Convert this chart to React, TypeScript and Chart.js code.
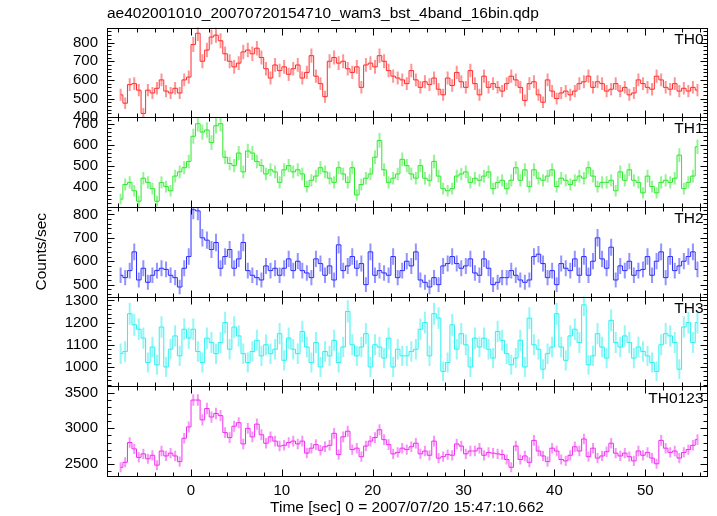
import React, { useEffect, useRef } from 'react';
import { Chart, registerables } from 'chart.js';

Chart.register(...registerables);

// ---- data (0.5 s bins, first bin centre at -7.75 s) ----
const BIN_START = -7.75;
const BIN_WIDTH = 0.5;

const TH0 = [
  520, 475, 575, 580, 545, 420, 545, 530, 555, 600, 540, 530, 555, 530, 600, 615,
  790, 850, 700, 760, 830, 840, 810, 740, 700, 670, 690, 750, 760, 740, 770, 720,
  660, 610, 680, 650, 670, 630, 660, 680, 610, 640, 730, 620, 580, 510, 700, 720,
  690, 700, 660, 640, 670, 560, 680, 690, 670, 730, 700, 650, 620, 610, 600, 580,
  650, 600, 560, 590, 575, 610, 550, 520, 610, 570, 640, 590, 560, 650, 580, 520,
  620, 560, 580, 560, 540, 580, 620, 600, 560, 490, 580, 590, 520, 480, 600, 540,
  500, 530, 540, 520, 540, 580, 590, 620, 560, 590, 580, 540, 550, 580, 540, 560,
  520, 530, 600, 580, 560, 550, 620, 600, 560, 550, 580, 540, 555, 540, 560, 545,
];

const TH1 = [
  340, 410, 420, 380, 330, 440, 420, 390, 330, 420, 400, 380, 450, 470, 490, 520,
  640, 700, 660, 670, 610, 690, 700, 540, 510, 500, 560, 470, 570, 560, 520, 500,
  460, 480, 470, 420, 480, 500, 470, 480, 460, 400, 430, 450, 490, 470, 440, 420,
  490, 460, 420, 490, 360, 410, 440, 460, 540, 620, 480, 420, 440, 460, 530, 500,
  460, 440, 500, 440, 430, 520, 450, 390, 380, 390, 450, 460, 470, 420, 440, 430,
  450, 470, 390, 420, 430, 390, 430, 490, 430, 480, 400, 480, 440, 430, 450, 480,
  400, 440, 430, 410, 430, 450, 440, 490, 450, 400, 420, 420, 430, 380, 470, 430,
  480, 430, 420, 370, 450, 400, 370, 420, 430, 420, 440, 550, 390, 420, 450, 590,
];

const TH2 = [
  540, 530, 560, 640, 520, 570, 510, 540, 560, 570, 565, 540, 530, 490, 570, 620,
  820, 815, 700, 690, 650, 680, 570, 620, 650, 570, 610, 680, 560, 540, 530, 520,
  580, 560, 570, 540, 570, 610, 560, 600, 560, 550, 530, 610, 590, 540, 580, 520,
  670, 560, 580, 620, 570, 590, 500, 640, 540, 560, 550, 540, 620, 530, 560, 600,
  580, 640, 520, 510, 490, 530, 500, 580, 590, 620, 590, 570, 580, 610, 550, 540,
  610, 570, 500, 510, 530, 530, 560, 540, 520, 510, 520, 620, 630, 590, 530, 560,
  500, 590, 570, 560, 610, 540, 620, 540, 600, 700, 610, 570, 660, 520, 580, 560,
  600, 540, 560, 565, 620, 540, 600, 640, 530, 620, 560, 580, 600, 620, 640, 565,
];

const TH3 = [
  1060, 1070, 1240, 1190, 1170, 1130, 1020, 1090, 1010, 1180, 1000, 1080, 1140, 1050, 1170, 1130,
  1170, 1070, 1020, 1130, 1110, 1060, 1110, 1200, 1080, 1180, 1140, 1060, 1020, 1070, 1120, 1050,
  1100, 1060, 1080, 1150, 1030, 1130, 1080, 1060, 1160, 1090, 1020, 1110, 1000, 1070, 1050, 1120,
  1020, 1090, 1250, 1100, 1050, 1090, 1150, 1000, 1100, 1090, 1040, 1130, 1000, 1080, 1050, 1050,
  1070, 1080, 1170, 1200, 1050, 1240, 1220, 980, 1020, 1190, 1080, 1150, 1100, 1000, 1130, 1090,
  1130, 1080, 1040, 1160, 1120, 1060, 1010, 1040, 1120, 1000, 1220, 1100, 1080, 990, 1060, 1090,
  1240, 1090, 1030, 1140, 1170, 1110, 1280, 1010, 1050, 1150, 1090, 1040, 1210, 1110, 1090, 1140,
  1110, 1040, 1090, 1070, 1050, 1020, 980, 1100, 1150, 1140, 1110, 990, 1180, 1200, 1110, 1200,
];

const TH0123 = [
  2450, 2520, 2800, 2710, 2590, 2640, 2570, 2620, 2480, 2680, 2610, 2650, 2610, 2530, 2860, 3020,
  3400, 3400, 3120, 3280, 3160, 3210, 3180, 2940, 2870, 3030, 3080, 2780, 3000, 2880, 3060, 2910,
  2790, 2880, 2820, 2750, 2760, 2800, 2820, 2780, 2820, 2650, 2720, 2770, 2690, 2740, 2760, 2930,
  2630, 2880, 2960, 2700, 2720, 2600, 2750, 2820, 2870, 2980, 2840, 2770, 2640, 2660, 2720, 2700,
  2740, 2790, 2640, 2680, 2620, 2820, 2580, 2600, 2630, 2620, 2780, 2750, 2640, 2680, 2680, 2720,
  2620, 2660, 2650, 2640, 2630, 2560, 2450, 2750, 2560, 2610, 2520, 2830, 2680, 2610, 2530, 2720,
  2680, 2560, 2540, 2620, 2740, 2680, 2850, 2600, 2720, 2580, 2610, 2670, 2790, 2650, 2610, 2650,
  2600, 2540, 2680, 2620, 2660, 2580, 2500, 2830, 2720, 2660, 2680, 2580, 2660, 2700, 2760, 2840,
];

const SERIES = [TH0, TH1, TH2, TH3, TH0123];
const PANEL_NAMES = ['TH0', 'TH1', 'TH2', 'TH3', 'TH0123'];
const Y_TICKS = [
  [400, 500, 600, 700, 800],
  [400, 500, 600, 700],
  [500, 600, 700, 800],
  [1000, 1100, 1200, 1300],
  [2500, 3000, 3500],
];
const X_TICKS = [0, 10, 20, 30, 40, 50];
const TITLE = 'ae402001010_20070720154710_wam3_bst_4band_16bin.qdp';
const X_TITLE = 'Time [sec] 0 = 2007/07/20 15:47:10.662';
const Y_TITLE = 'Counts/sec';

// ---- styling ----
const Y_MIN = [400, 303, 449, 913, 2327];
const Y_MAX = [881, 731, 832, 1317, 3594];
const Y_MINOR = [20, 20, 20, 20, 100];
const LINE_COLORS = ['#ff2b2b', '#2be82b', '#2b2bff', '#2bf0f0', '#f02bf0'];
const ERR_COLORS = [
  'rgba(255,60,60,0.55)',
  'rgba(60,235,60,0.55)',
  'rgba(60,60,255,0.55)',
  'rgba(60,240,240,0.55)',
  'rgba(240,60,240,0.55)',
];
const FONT = "'Liberation Sans', Arial, Helvetica, sans-serif";

const panelPlugin = {
  id: 'panelPlugin',
  beforeDatasetDraw(chart: any, args: any) {
    const k = args.index;
    const ys = chart.scales['y' + k];
    const xs = chart.scales.x;
    const ctx = chart.ctx;
    const ca = chart.chartArea;
    ctx.save();
    ctx.beginPath();
    ctx.rect(ca.left, ys.top, ca.right - ca.left, ys.bottom - ys.top);
    ctx.clip();
    // error bars
    ctx.strokeStyle = ERR_COLORS[k];
    ctx.lineWidth = 2;
    const vals = SERIES[k];
    vals.forEach((v, i) => {
      const t = BIN_START + BIN_WIDTH * i;
      const err = Math.sqrt(v / BIN_WIDTH);
      const x = xs.getPixelForValue(t);
      ctx.beginPath();
      ctx.moveTo(x, ys.getPixelForValue(v - err));
      ctx.lineTo(x, ys.getPixelForValue(v + err));
      ctx.stroke();
    });
  },
  afterDatasetDraw(chart: any) {
    chart.ctx.restore();
  },
  afterDraw(chart: any) {
    const ctx = chart.ctx;
    const ca = chart.chartArea;
    const xs = chart.scales.x;
    ctx.save();
    ctx.strokeStyle = '#000';
    ctx.lineWidth = 1;
    const L = Math.round(ca.left) + 0.5;
    const R = Math.round(ca.right) + 0.5;
    for (let k = 0; k < 5; k++) {
      const ys = chart.scales['y' + k];
      const T = Math.round(ys.top) + 0.5;
      const B = Math.round(ys.bottom) + 0.5;
      ctx.strokeRect(L, T, R - L, B - T);
      ctx.beginPath();
      // x ticks
      for (let t = -8; t <= 56; t += 2) {
        const x = Math.round(xs.getPixelForValue(t)) + 0.5;
        const len = t % 10 === 0 ? 7 : 4;
        ctx.moveTo(x, T); ctx.lineTo(x, T + len);
        ctx.moveTo(x, B); ctx.lineTo(x, B - len);
      }
      // y ticks
      const step = Y_MINOR[k];
      const majors = Y_TICKS[k];
      const majorStep = majors[1] - majors[0];
      for (let v = Math.ceil(Y_MIN[k] / step) * step; v <= Y_MAX[k]; v += step) {
        const y = Math.round(ys.getPixelForValue(v)) + 0.5;
        const len = v % majorStep === 0 ? 7 : 4;
        ctx.moveTo(L, y); ctx.lineTo(L + len, y);
        ctx.moveTo(R, y); ctx.lineTo(R - len, y);
      }
      ctx.stroke();
      // panel name
      ctx.fillStyle = '#000';
      ctx.font = `15.5px ${FONT}`;
      ctx.textAlign = 'right';
      ctx.textBaseline = 'middle';
      ctx.fillText(PANEL_NAMES[k], R - 4, ys.top + 12);
    }
    // titles
    ctx.fillStyle = '#000';
    ctx.font = `15.5px ${FONT}`;
    ctx.textAlign = 'left';
    ctx.textBaseline = 'middle';
    ctx.fillText(TITLE, 107, 14);
    ctx.textAlign = 'center';
    ctx.fillText(X_TITLE, (ca.left + ca.right) / 2, 508);
    ctx.translate(42, (ca.top + ca.bottom) / 2);
    ctx.rotate(-Math.PI / 2);
    ctx.fillText(Y_TITLE, 0, 0);
    ctx.restore();
  },
};

export default function App() {
  const ref = useRef<HTMLCanvasElement | null>(null);

  useEffect(() => {
    if (!ref.current) return;
    const datasets = SERIES.map((vals, k) => ({
      label: PANEL_NAMES[k],
      data: vals.map((v, i) => ({ x: BIN_START + BIN_WIDTH * i, y: v })),
      yAxisID: 'y' + k,
      borderColor: LINE_COLORS[k],
      borderWidth: 1,
      pointRadius: 0,
      stepped: 'middle' as const,
      fill: false,
    }));

    const scales: any = {
      x: {
        type: 'linear',
        position: 'bottom',
        min: -9.25,
        max: 56.8,
        grid: { display: false, drawTicks: false },
        border: { display: false },
        ticks: {
          color: '#000',
          font: { family: FONT, size: 15 },
          padding: 6,
          autoSkip: false,
          maxRotation: 0,
          callback: (v: any) => String(v),
        },
        afterBuildTicks: (s: any) => {
          s.ticks = X_TICKS.map((v) => ({ value: v }));
        },
        afterFit: (s: any) => {
          s.height = 40;
        },
      },
    };
    for (let k = 0; k < 5; k++) {
      scales['y' + k] = {
        type: 'linear',
        position: 'left',
        stack: 'panels',
        stackWeight: 1,
        weight: 5 - k,
        min: Y_MIN[k],
        max: Y_MAX[k],
        grid: { display: false, drawTicks: false },
        border: { display: false },
        ticks: {
          color: '#000',
          font: { family: FONT, size: 15 },
          padding: 9,
          autoSkip: false,
          callback: (v: any) => String(v),
        },
        afterBuildTicks: (s: any) => {
          s.ticks = Y_TICKS[k].map((v) => ({ value: v }));
        },
        afterFit: (s: any) => {
          s.width = 107;
        },
      };
    }

    const chart = new Chart(ref.current, {
      type: 'line',
      data: { datasets },
      options: {
        animation: false,
        responsive: false,
        maintainAspectRatio: false,
        devicePixelRatio: 1,
        layout: { padding: { left: 0, top: 27.5, right: 10, bottom: 0 } },
        plugins: {
          legend: { display: false },
          title: { display: false },
          tooltip: { enabled: false },
        },
        scales,
      },
      plugins: [panelPlugin],
    });
    return () => chart.destroy();
  }, []);

  return (
    <div style={{ position: 'absolute', left: 0, top: 0, width: 717, height: 516, background: '#fff' }}>
      <canvas ref={ref} width={717} height={516} style={{ width: 717, height: 516 }} />
    </div>
  );
}
